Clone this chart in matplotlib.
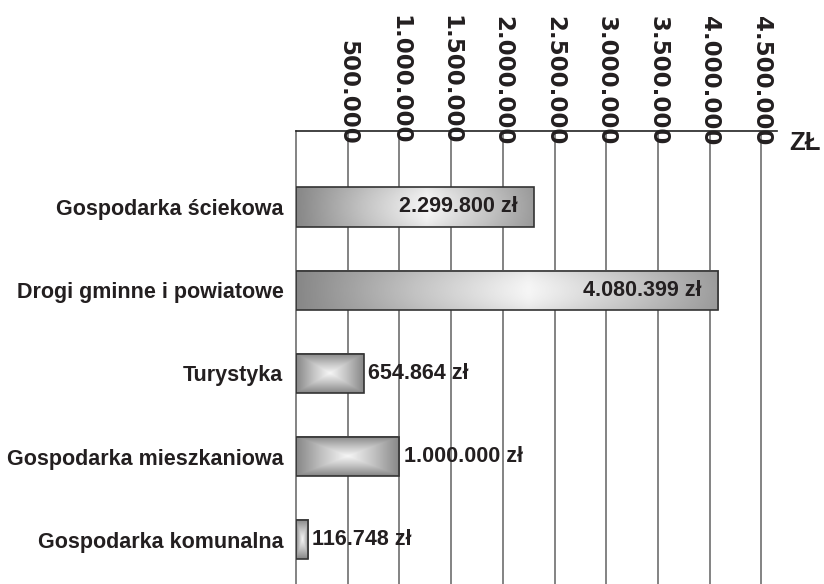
import numpy as np
import matplotlib
matplotlib.use("Agg")
import matplotlib.pyplot as plt
from matplotlib.patches import Rectangle

# dane
categories = ["Gospodarka ściekowa", "Drogi gminne i powiatowe", "Turystyka",
              "Gospodarka mieszkaniowa", "Gospodarka komunalna"]
values = [2299800, 4080399, 654864, 1000000, 116748]
value_labels = ["2.299.800 zł", "4.080.399 zł", "654.864 zł", "1.000.000 zł", "116.748 zł"]
tick_values = [500000, 1000000, 1500000, 2000000, 2500000, 3000000, 3500000, 4000000, 4500000]
tick_labels = ["500.000", "1.000.000", "1.500.000", "2.000.000", "2.500.000",
               "3.000.000", "3.500.000", "4.000.000", "4.500.000"]
unit_label = "ZŁ"

NARROW = ["Liberation Sans Narrow", "Liberation Sans", "DejaVu Sans"]
TXT = "#231f20"

fig = plt.figure(figsize=(8.24, 5.84), dpi=100)
ax = fig.add_axes([0.3592, 0.0, 0.5837, 0.7757])

y = np.arange(len(categories))
bar_h = 0.47
ax.set_xlim(0, 4650000)
ax.set_ylim(4.53, -0.913)

# siatka
for t in tick_values:
    ax.axvline(t, color="#6e6e6e", lw=1.2, zorder=0)

cmap = matplotlib.colors.LinearSegmentedColormap.from_list(
    "g", ["#878787", "#c2c2c2", "#f6f6f6"])


def gradient(kind, w, h):
    u = np.linspace(-1, 1, w)
    v = np.linspace(-1, 1, h)
    U, V = np.meshgrid(u, v)
    if kind == "linear":
        g = 1 - np.abs(U - 0.1) / 1.1
        g = g * (1 - 0.15 * V ** 2)
    else:
        g = 1 - np.maximum(np.abs(U), np.abs(V))
    return np.clip(g, 0, 1)


styles = ["linear", "linear", "box", "box", "box"]
for yi, val, st in zip(y, values, styles):
    img = gradient(st, 200, 40)
    ax.imshow(img, cmap=cmap, vmin=0, vmax=1, aspect="auto",
              extent=[0, val, yi + bar_h / 2, yi - bar_h / 2],
              interpolation="bilinear", zorder=2)
    ax.add_patch(Rectangle((0, yi - bar_h / 2), val, bar_h, fill=False,
                           edgecolor="#333333", lw=1.2, zorder=3))

# etykiety wartości
for yi, val, lab in zip(y, values, value_labels):
    if val > 2000000:
        ax.annotate(lab, (val, yi), xytext=(-12, 0), textcoords="offset points",
                    ha="right", va="center", fontsize=15.5, fontweight="bold",
                    family=NARROW, color=TXT, zorder=4)
    else:
        ax.annotate(lab, (val, yi), xytext=(3, 0), textcoords="offset points",
                    ha="left", va="center", fontsize=15.5, fontweight="bold",
                    family=NARROW, color=TXT, zorder=4)

ax.set_yticks(y)
ax.set_yticklabels(categories, fontsize=15.5, fontweight="bold", family=NARROW, color=TXT)
ax.tick_params(axis="y", length=0, pad=9)

ax.xaxis.tick_top()
ax.set_xticks(tick_values)
ax.set_xticklabels(tick_labels, rotation=-90, fontsize=16.5, fontweight="bold",
                   family=["DejaVu Sans"], color=TXT)
ax.tick_params(axis="x", length=0, pad=-10)

for s in ["right", "bottom"]:
    ax.spines[s].set_visible(False)
ax.spines["top"].set_color("#222222")
ax.spines["top"].set_linewidth(1.2)
ax.spines["left"].set_color("#6e6e6e")
ax.spines["left"].set_linewidth(1.2)
ax.set_zorder(1)

fig.text(0.958, 0.755, unit_label, fontsize=18.5, fontweight="bold",
         family=["Liberation Sans", "DejaVu Sans"], color=TXT, ha="left", va="center")

fig.savefig("out.png", dpi=100)
